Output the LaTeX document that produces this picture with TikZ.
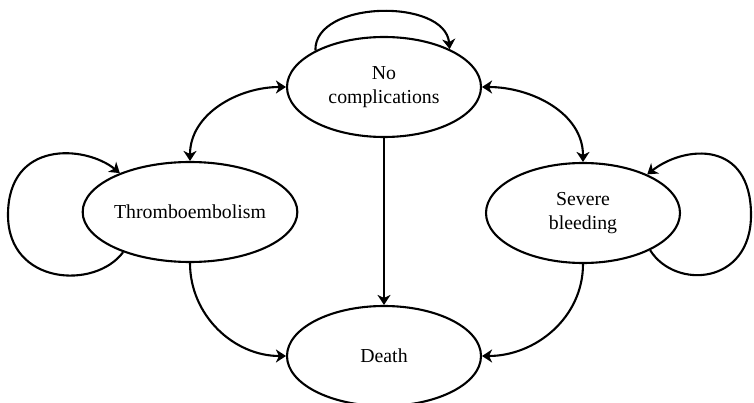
\documentclass[tikz,border=0pt]{standalone}
\usepackage{fontspec}
\setmainfont{Liberation Serif}
\usetikzlibrary{shapes.geometric,arrows.meta}
\begin{document}
\begin{tikzpicture}[x=1pt,y=-1pt,
  state/.style={draw,ellipse,line width=2.1pt,minimum width=194pt,minimum height=100pt,inner sep=0pt,align=center,font=\fontsize{19.8}{24}\selectfont},
  conn/.style={line width=2.1pt,arrows={-Stealth[length=10pt,width=13pt,inset=3pt]}},
  bconn/.style={line width=2.1pt,arrows={Stealth[length=10pt,width=13pt,inset=3pt]-Stealth[length=10pt,width=13pt,inset=3pt]}}]
\useasboundingbox (0,0) rectangle (754,403);
\node[state] (nc) at (384,87) {No\\complications};
\node[state] (te) at (190,212) {Thromboembolism};
\node[state] (sb) at (583,213) {Severe\\bleeding};
\node[state] (de) at (384,356) {Death};
\draw[bconn] (te.north) to[out=90,in=180] (nc.west);
\draw[bconn] (nc.east) to[out=0,in=90] (sb.north);
\draw[conn] (nc.south) -- (de.north);
\draw[conn] (te.south) to[out=-90,in=180] (de.west);
\draw[conn] (sb.south) to[out=-90,in=0] (de.east);
\draw[conn] (nc.152) .. controls (314,0) and (445,-2) .. (nc.30);
\draw[conn] (te.211) .. controls (95,290) and (8,285) .. (8,215) .. controls (8,140) and (85,145) .. (te.151);
\draw[conn] (sb.331) .. controls (675,290) and (751,285) .. (751,215) .. controls (751,140) and (685,145) .. (sb.31);
\end{tikzpicture}
\end{document}
